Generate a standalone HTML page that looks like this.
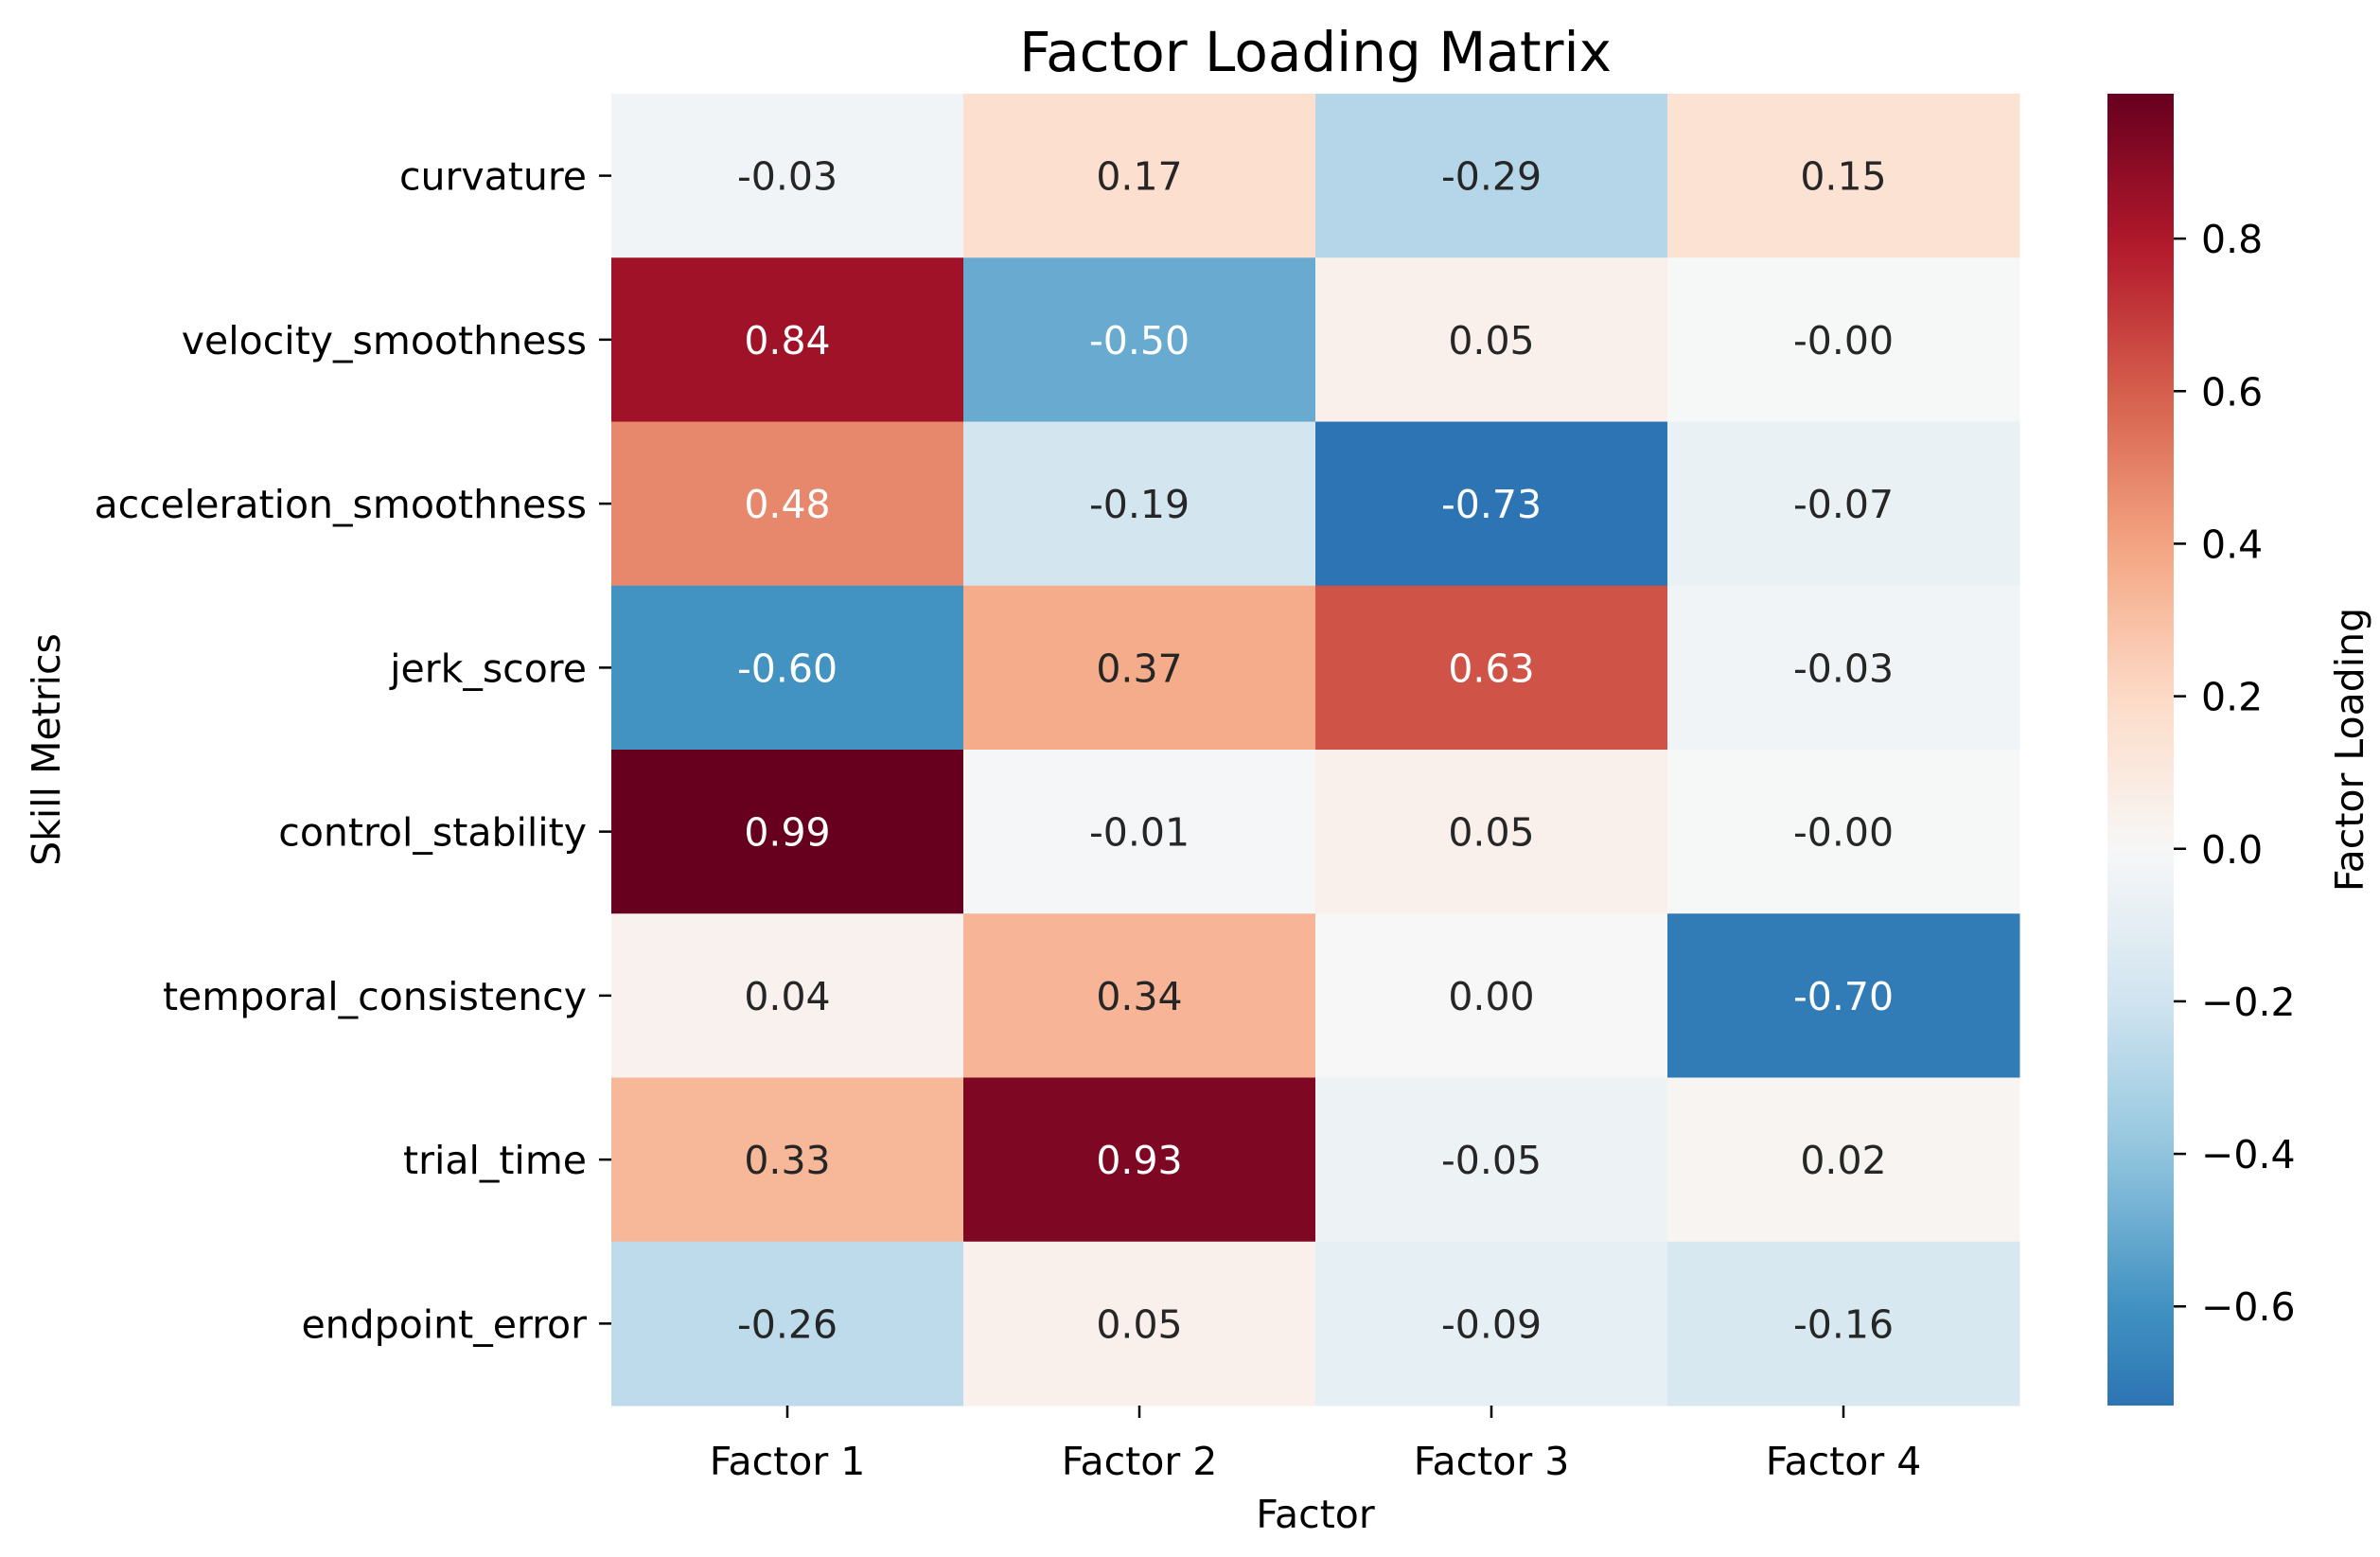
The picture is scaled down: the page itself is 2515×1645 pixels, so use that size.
<!DOCTYPE html>
<html><head><meta charset="utf-8"><style>
html,body{margin:0;padding:0;background:#fff;}
svg{display:block;font-family:"DejaVu Sans","Liberation Sans",sans-serif;}
</style></head><body>
<svg id="chart" width="2515" height="1645" viewBox="0 0 2515 1645" xmlns="http://www.w3.org/2000/svg">
<rect width="2515" height="1645" fill="#fff"/>
<text x="1390" y="75" font-size="58" text-anchor="middle" fill="#000">Factor Loading Matrix</text>
<g id="cells"></g>
<g id="yticks"></g>
<g id="xticks"></g>
<text x="1390" y="1614" font-size="41" text-anchor="middle" fill="#000">Factor</text>
<text transform="translate(63,792) rotate(-90)" font-size="41" text-anchor="middle" fill="#000">Skill Metrics</text>
<defs><linearGradient id="cbgrad" x1="0" y1="1" x2="0" y2="0"></linearGradient></defs>
<rect x="2227" y="99" width="70" height="1386" fill="url(#cbgrad)"/>
<g id="cbticks"></g>
<text transform="translate(2497,792) rotate(-90)" font-size="41" text-anchor="middle" fill="#000">Factor Loading</text>
</svg>
<script>
const metrics = ["curvature","velocity_smoothness","acceleration_smoothness","jerk_score","control_stability","temporal_consistency","trial_time","endpoint_error"];
const factors = ["Factor 1","Factor 2","Factor 3","Factor 4"];
const loadings = [
  [-0.03, 0.17, -0.29, 0.15],
  [0.84, -0.50, 0.05, -0.004],
  [0.48, -0.19, -0.73, -0.07],
  [-0.60, 0.37, 0.63, -0.03],
  [0.99, -0.01, 0.05, -0.004],
  [0.04, 0.34, 0.00, -0.70],
  [0.33, 0.93, -0.05, 0.02],
  [-0.26, 0.05, -0.09, -0.16]
];
const colorbarTicks = [-0.6, -0.4, -0.2, 0.0, 0.2, 0.4, 0.6, 0.8];

const NS = "http://www.w3.org/2000/svg";
const X0 = 646, X1 = 2134, Y0 = 99, Y1 = 1485;
const flat = loadings.flat();
const vmin = Math.min(...flat), vmax = Math.max(...flat);
const vr = Math.max(Math.abs(vmin), Math.abs(vmax));
const stops = ["#053061","#2166ac","#4393c3","#92c5de","#d1e5f0","#f7f7f7","#fddbc7","#f4a582","#d6604d","#b2182b","#67001f"].map(h=>[parseInt(h.slice(1,3),16),parseInt(h.slice(3,5),16),parseInt(h.slice(5,7),16)]);
function cmap(v){
  let t = (v + vr) / (2*vr); t = Math.max(0, Math.min(1, t));
  const p = t*(stops.length-1); const i = Math.min(Math.floor(p), stops.length-2); const f = p - i;
  return stops[i].map((c,k)=>Math.round(c + (stops[i+1][k]-c)*f));
}
function rgb(c){return "rgb("+c.join(",")+")";}
function lum(c){const l=c.map(x=>{x/=255;return x<=0.03928?x/12.92:Math.pow((x+0.055)/1.055,2.4);});return 0.2126*l[0]+0.7152*l[1]+0.0722*l[2];}
function fmt(v){const s=Math.abs(v).toFixed(2);return (v<0?"-":"")+s;}
const cw = (X1-X0)/factors.length, ch = (Y1-Y0)/metrics.length;
function xPos(j){return X0 + j*cw;}
function yPos(i){return Y0 + i*ch;}
function cbY(v){return Y1 - (v - vmin)/(vmax - vmin)*(Y1-Y0);}
function mk(tag, attrs, parent){const e=document.createElementNS(NS,tag);for(const k in attrs)e.setAttribute(k,attrs[k]);parent.appendChild(e);return e;}
const cells = document.getElementById("cells");
loadings.forEach((row,i)=>row.forEach((v,j)=>{
  const c = cmap(v);
  const r = mk("rect",{x:xPos(j),y:yPos(i),width:cw+0.5,height:ch+0.5,fill:rgb(c)},cells);
  
  
  const t = mk("text",{x:xPos(j)+cw/2,y:yPos(i)+ch/2+15,"font-size":41,"text-anchor":"middle",fill:lum(c)>0.408?"#262626":"#ffffff"},cells);
  
  
  t.textContent = fmt(v);
}));
const yt = document.getElementById("yticks");
metrics.forEach((m,i)=>{
  const y = yPos(i)+ch/2;
  mk("line",{x1:X0-13,x2:X0,y1:y,y2:y,stroke:"#000","stroke-width":2.5},yt);
  const t = mk("text",{x:X0-26,y:y+15,"font-size":41,"text-anchor":"end",fill:"#000"},yt);
  
  
  t.textContent = m;
});
const xt = document.getElementById("xticks");
factors.forEach((f,j)=>{
  const x = xPos(j)+cw/2;
  mk("line",{x1:x,x2:x,y1:Y1,y2:Y1+13,stroke:"#000","stroke-width":2.5},xt);
  const t = mk("text",{x:x,y:1558,"font-size":41,"text-anchor":"middle",fill:"#000"},xt);
  
  
  t.textContent = f;
});
const grad = document.getElementById("cbgrad");
for(let k=0;k<=40;k++){
  const v = vmin + (vmax-vmin)*k/40;
  mk("stop",{offset:(k/40*100)+"%","stop-color":rgb(cmap(v))},grad);
}
const cbt = document.getElementById("cbticks");
colorbarTicks.forEach(v=>{
  const y = cbY(v);
  mk("line",{x1:2297,x2:2310,y1:y,y2:y,stroke:"#000","stroke-width":2.5},cbt);
  const t = mk("text",{x:2326,y:y+15,"font-size":41,fill:"#000"},cbt);
  
  
  t.textContent = v.toFixed(1).replace("-","\u2212");
});
</script>
</body></html>
